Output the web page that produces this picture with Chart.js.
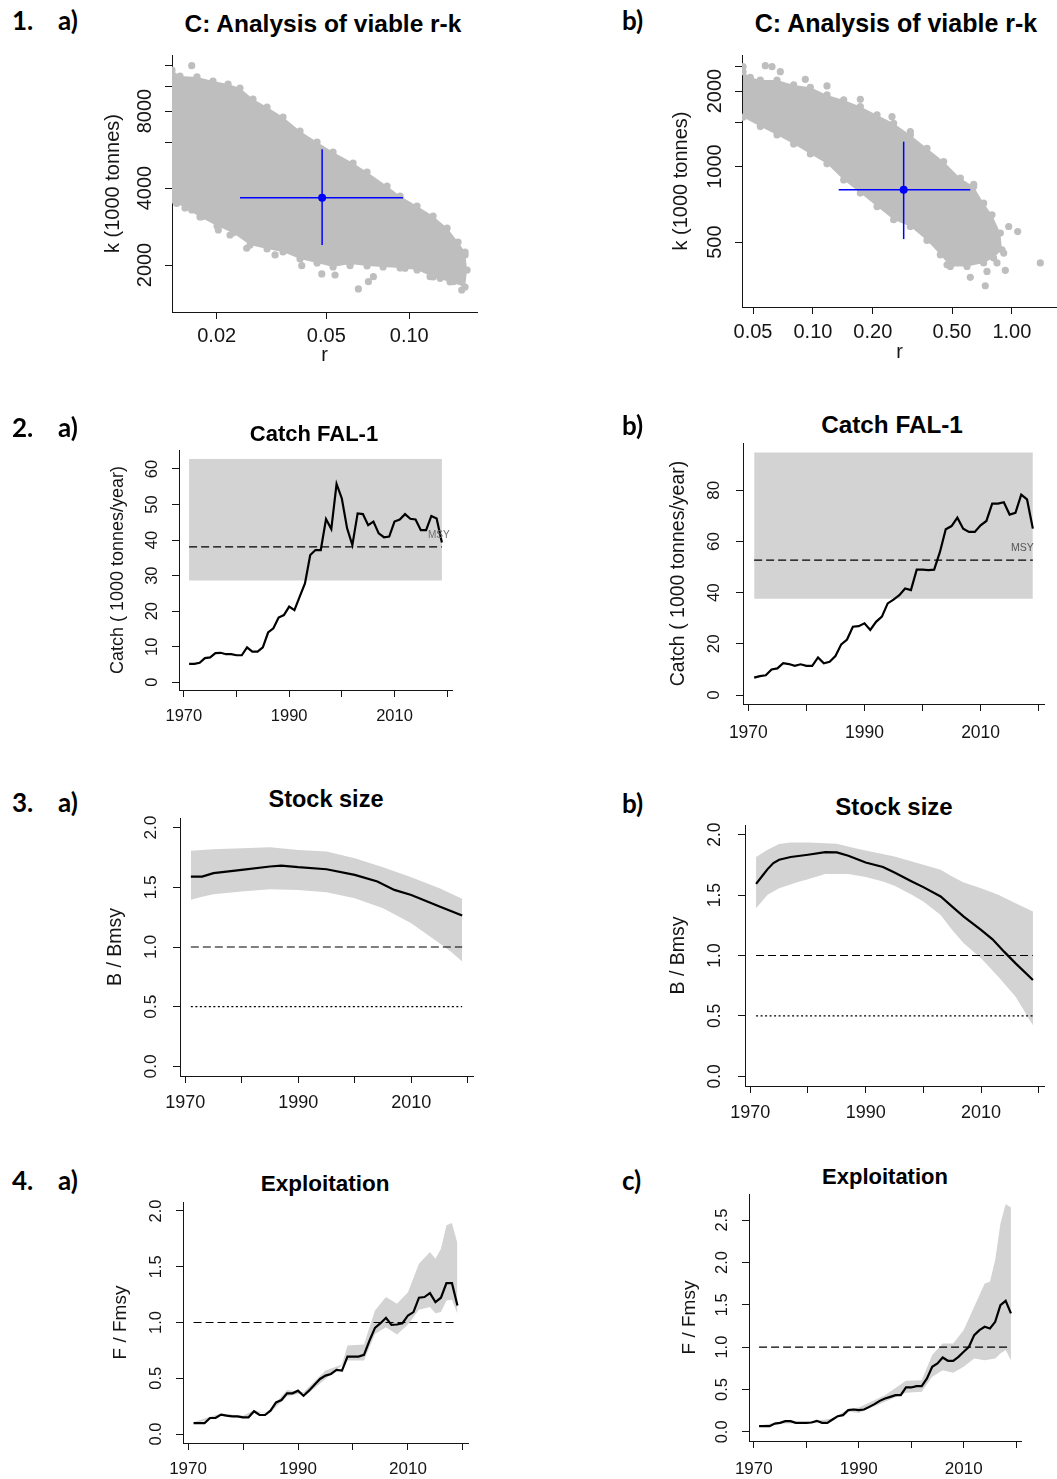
<!DOCTYPE html>
<html><head><meta charset="utf-8">
<script src="https://cdn.jsdelivr.net/npm/chart.js@4.4.1/dist/chart.umd.min.js"></script>
<style>
html,body{margin:0;padding:0;background:#fff;}
#page{position:relative;width:1057px;height:1479px;overflow:hidden;background:#fff;}
#page canvas{position:absolute;}
.lbl{position:absolute;font-family:Lato,'Open Sans',sans-serif;font-weight:700;color:#000;white-space:nowrap;}
.ttl{position:absolute;font-family:'Liberation Sans',Arial,sans-serif;font-weight:700;color:#000;text-align:center;white-space:nowrap;}
</style></head>
<body><div id="page"></div>
<script>
// ---------------- DATA ----------------
// Panel 1a: viable r-k (cloud outline + scattered points + best estimate)
const rk1aCloudR = [0.01377,0.01472,0.01697,0.01940,0.02200,0.02430,0.02710,0.03047,0.03482,0.04014,0.04627,0.05289,0.06252,0.07028,0.08307,0.09261,0.1067,0.1220,0.1372,0.1503,0.1594,0.1621,0.1594,0.1406,0.1220,0.1067,0.09261,0.08034,0.07028,0.06097,0.05289,0.04627,0.04014,0.03482,0.03047,0.02643,0.02293,0.02006,0.01740,0.01535,0.01377];
const rk1aCloudK = [11570,10960,10870,10480,10200,9840,8913,8294,7580,6680,6053,5531,5010,4619,4073,3722,3402,3109,2790,2460,2248,1912,1641,1716,1795,1912,1947,1964,1982,2018,1964,2037,2111,2248,2310,2394,2668,2841,3081,3341,3591];
const rk1aDotsR = [0.01624,0.01493,0.01432,0.01624,0.01765,0.02028,0.02236,0.02570,0.03258,0.04072,0.04814,0.05378,0.06097,0.06535,0.07106,0.07409,0.09654,0.1190,0.1294,0.1446,0.1550,0.1550,0.1594,0.1487,0.1368,0.1223];
const rk1aDotsK = [12030,3535,3483,3282,3090,2741,2620,2325,2189,1988,1845,1828,1988,1612,1721,1800,1942,1800,1774,1721,1597,1942,2189,2394,2660,2911];
const rk1aBestR = [0.0243, 0.04827, 0.0950];   // lower, best, upper
const rk1aBestK = [2394, 3665, 5668];

// Panel 1b
const rk1bCloudR = [0.04452,0.04848,0.05441,0.06600,0.08004,0.09707,0.1177,0.1428,0.1731,0.2100,0.2545,0.3087,0.3744,0.4541,0.5506,0.6425,0.7211,0.7943,0.8747,0.8918,0.8096,0.7211,0.5947,0.4904,0.4368,0.3744,0.3087,0.2545,0.2100,0.1731,0.1428,0.1177,0.09707,0.08004,0.06600,0.05441,0.04452];
const rk1bCloudK = [2389,2268,2213,2213,2114,2070,1929,1843,1734,1606,1488,1337,1183,1047,899,833,715,642,543,466,432,413,400,400,445,508,577,614,693,784,885,1025,1123,1231,1337,1443,1573];
const rk1bDotsR = [0.04452,0.05764,0.06231,0.06860,0.09157,0.1177,0.1731,0.2497,0.3087,0.5726,0.6425,0.9636,1.069,1.389,0.9264,0.7348,0.6178,0.7497,0.8415,0.9094,0.5298,0.4720];
const rk1bDotsK = [2500,2523,2500,2389,2227,2095,1854,1581,1378,846,850,577,551,413,386,335,362,382,413,452,425,406];
const rk1bBestR = [0.1348, 0.2858, 0.6178];
const rk1bBestK = [514, 808, 1257];

// Yearly series
const years = [1971,1972,1973,1974,1975,1976,1977,1978,1979,1980,1981,1982,1983,1984,1985,1986,1987,1988,1989,1990,1991,1992,1993,1994,1995,1996,1997,1998,1999,2000,2001,2002,2003,2004,2005,2006,2007,2008,2009,2010,2011,2012,2013,2014,2015,2016,2017,2018,2019];
const catchA = [5.2,5.2,5.5,6.8,7.0,8.2,8.3,7.9,7.9,7.6,7.6,9.8,8.6,8.6,9.8,14.0,15.2,18.2,18.9,21.3,20.3,24.1,27.8,35.8,37.2,37.2,45.9,43.1,55.8,51.7,43.3,38.6,47.5,47.3,44.2,45.2,41.9,40.8,41.0,45.2,45.8,47.3,46.0,45.8,42.8,42.8,46.8,46.1,39.3];
const catchB = [6.8,7.4,7.7,10.0,10.4,12.4,12.1,11.4,12.0,11.4,11.4,14.7,12.4,13.0,15.2,19.8,21.7,26.7,26.9,28.0,25.4,28.6,30.6,35.8,37.3,39.0,41.6,41.0,49.0,49.0,48.8,49.0,55.9,64.8,66.0,69.3,65.0,63.7,63.7,66.3,68.0,74.8,74.8,75.3,70.5,71.2,78.3,76.4,65.0];
const msyA = [38.1, 28.6, 62.8];   // MSY, lower, upper
const msyB = [52.7, 37.6, 94.7];
const msyYears = [1971, 2019];

// Stock size B/Bmsy
const bA_yr = [1971,1973,1975,1980,1985,1987,1990,1995,2000,2004,2007,2010,2015,2019];
const bA    = [1.590,1.590,1.618,1.646,1.674,1.682,1.668,1.651,1.604,1.548,1.478,1.436,1.339,1.264];
const bAhi_yr = [1971,1975,1980,1985,1990,1995,2000,2005,2010,2015,2019];
const bAhi    = [1.805,1.819,1.827,1.835,1.813,1.799,1.743,1.668,1.584,1.492,1.403];
const bAlo_yr = [1971,1973,1975,1980,1985,1990,1995,2000,2005,2010,2015,2017,2019];
const bAlo    = [1.395,1.420,1.442,1.464,1.484,1.478,1.459,1.409,1.325,1.199,1.032,0.962,0.879];

const bB_yr = [1971,1972,1973,1974,1975,1977,1980,1983,1985,1987,1990,1993,1995,1998,2000,2003,2005,2007,2010,2012,2014,2016,2019];
const bB    = [1.593,1.654,1.715,1.765,1.793,1.815,1.834,1.856,1.853,1.826,1.770,1.732,1.687,1.613,1.566,1.488,1.405,1.322,1.212,1.134,1.032,0.935,0.797];
const bBhi_yr = [1971,1973,1975,1977,1980,1985,1988,1990,1995,2000,2003,2005,2007,2010,2013,2016,2019];
const bBhi    = [1.815,1.876,1.923,1.936,1.936,1.925,1.889,1.870,1.820,1.751,1.710,1.654,1.604,1.557,1.502,1.433,1.364];
const bBlo_yr = [1971,1973,1975,1978,1980,1983,1987,1990,1993,1995,1998,2000,2003,2005,2007,2010,2013,2016,2019];
const bBlo    = [1.391,1.502,1.557,1.604,1.632,1.674,1.674,1.649,1.613,1.577,1.502,1.447,1.336,1.212,1.101,0.977,0.824,0.658,0.423];

// Exploitation F/Fmsy
const fA = [0.099,0.099,0.099,0.144,0.144,0.174,0.165,0.159,0.159,0.150,0.150,0.204,0.171,0.171,0.210,0.284,0.305,0.365,0.365,0.389,0.344,0.389,0.443,0.494,0.524,0.539,0.575,0.569,0.695,0.695,0.695,0.710,0.838,0.952,0.994,1.042,0.979,0.982,0.994,1.063,1.093,1.222,1.228,1.263,1.183,1.222,1.353,1.353,1.153];
const fAhi_yr = [1971,1974,1976,1980,1982,1984,1985,1988,1991,1995,1998,1999,2002,2004,2006,2008,2010,2012,2014,2015,2016,2017,2018,2019];
const fAhi    = [0.105,0.155,0.185,0.165,0.215,0.185,0.225,0.395,0.374,0.569,0.623,0.793,0.802,1.108,1.228,1.168,1.272,1.527,1.632,1.572,1.662,1.871,1.892,1.707];
const fAlo_yr = [1971,1974,1976,1980,1982,1985,1988,1990,1992,1995,1999,2002,2004,2006,2008,2010,2012,2014,2015,2016,2017,2018,2019];
const fAlo    = [0.090,0.135,0.165,0.140,0.190,0.195,0.340,0.359,0.370,0.494,0.659,0.659,0.898,0.958,0.892,0.982,1.114,1.138,1.084,1.093,1.198,1.204,1.078];

const fC = [0.067,0.067,0.067,0.098,0.106,0.126,0.126,0.106,0.106,0.106,0.110,0.130,0.106,0.106,0.146,0.185,0.197,0.256,0.264,0.256,0.264,0.295,0.327,0.366,0.394,0.413,0.433,0.433,0.524,0.524,0.539,0.539,0.630,0.768,0.807,0.878,0.839,0.839,0.886,0.945,1.004,1.142,1.201,1.240,1.220,1.299,1.496,1.547,1.398];
const fChi_yr = [1971,1975,1980,1985,1988,1990,1995,1999,2002,2004,2006,2008,2010,2012,2014,2015,2016,2017,2018,2019];
const fChi    = [0.075,0.115,0.115,0.157,0.270,0.287,0.433,0.602,0.610,0.906,1.043,1.043,1.201,1.476,1.752,1.772,2.028,2.461,2.689,2.650];
const fClo_yr = [1971,1975,1980,1985,1988,1990,1995,1999,2002,2004,2006,2008,2010,2012,2014,2016,2017,2018,2019];
const fClo    = [0.059,0.098,0.098,0.130,0.240,0.224,0.354,0.461,0.472,0.650,0.728,0.697,0.768,0.866,0.846,0.866,0.925,0.965,0.846];

const refYears = [1971, 2019];

// Tick values and labels
const yearTicks = [1970,1980,1990,2000,2010,2020];
const yearTickLabels = ['1970','','1990','','2010',''];
const r1aTicks = [0.02,0.05,0.1];            const r1aLabels = ['0.02','0.05','0.10'];
const k1aTicks = [2000,4000,6000,8000,10000,12000]; const k1aLabels = ['2000','4000','','8000','',''];
const r1bTicks = [0.05,0.1,0.2,0.5,1];       const r1bLabels = ['0.05','0.10','0.20','0.50','1.00'];
const k1bTicks = [500,1000,1500,2000,2500];  const k1bLabels = ['500','1000','','2000',''];
const c2aTicks = [0,10,20,30,40,50,60];      const c2aLabels = ['0','10','20','30','40','50','60'];
const c2bTicks = [0,20,40,60,80];            const c2bLabels = ['0','20','40','60','80'];
const ratioTicks = [0,0.5,1,1.5,2];          const ratioLabels = ['0.0','0.5','1.0','1.5','2.0'];
const ratioTicksC = [0,0.5,1,1.5,2,2.5];     const ratioLabelsC = ['0.0','0.5','1.0','1.5','2.0','2.5'];

// ---------------- RENDERING ----------------
const FAM = "'Liberation Sans', Arial, Helvetica, sans-serif";
const INK = '#151515';
const CLOUD = '#bebebe';
const BAND = '#d3d3d3';
const BLUE = '#0000ff';
const TL = 7;
Chart.defaults.font.family = FAM;
Chart.defaults.color = INK;
const page = document.getElementById('page');

const mctx = document.createElement('canvas').getContext('2d');
function measureMax(labels, size) {
  mctx.font = size + 'px ' + FAM;
  return Math.max(...labels.map(s => mctx.measureText(s).width));
}
const pts = (xs, ys) => xs.map((x, i) => ({x: x, y: ys[i]}));
const flat = (xs, v) => xs.map(x => ({x: x, y: v}));

function textPlugin(items) {
  return {
    id: 'refText',
    afterDatasetsDraw(chart) {
      const ctx = chart.ctx;
      ctx.save();
      items.forEach(t => {
        ctx.font = t.fs + 'px ' + FAM;
        ctx.fillStyle = t.color;
        ctx.textAlign = 'center';
        ctx.textBaseline = 'middle';
        ctx.fillText(t.text, chart.scales.x.getPixelForValue(t.x), chart.scales.y.getPixelForValue(t.y));
      });
      ctx.restore();
    }
  };
}

function panel(p) {
  const [cx, cy, cw, ch] = p.box;
  const [L, T, R, B] = p.plot;
  const cv = document.createElement('canvas');
  cv.width = cw; cv.height = ch;
  cv.style.left = cx + 'px'; cv.style.top = cy + 'px';
  cv.style.width = cw + 'px'; cv.style.height = ch + 'px';
  page.appendChild(cv);
  const yw = L - cx, xh = cy + ch - B;
  const X = p.x, Y = p.y;
  const yLabW = measureMax(Y.labels, Y.fs);
  new Chart(cv.getContext('2d'), {
    type: 'line',
    data: {datasets: p.datasets},
    options: {
      responsive: false, maintainAspectRatio: false, animation: false, devicePixelRatio: 1, events: [],
      layout: {autoPadding: false, padding: {left: 0, top: T - cy, right: cx + cw - R, bottom: 0}},
      plugins: {legend: {display: false}, tooltip: {enabled: false}, title: {display: false}},
      elements: {point: {radius: 0, hoverRadius: 0}, line: {tension: 0}},
      scales: {
        x: {
          type: X.type, position: 'bottom', min: X.min, max: X.max, bounds: 'data', offset: false,
          afterBuildTicks: s => { s.ticks = X.ticks.map(v => ({value: v})); },
          afterFit: s => { s.height = xh; s.paddingLeft = 0; s.paddingRight = 0; },
          ticks: {autoSkip: false, minRotation: 0, maxRotation: 0, color: INK,
                  font: {family: FAM, size: X.fs}, padding: X.labelY - B - TL - 0.6 * X.fs,
                  callback: (v, i) => X.labels[i]},
          grid: {drawOnChartArea: false, drawTicks: true, tickLength: TL, color: INK, lineWidth: 1},
          border: {display: true, color: INK, width: 1},
          title: X.title ? {display: true, text: X.title, color: INK, font: {family: FAM, size: X.tfs},
                            padding: {top: 0, bottom: (cy + ch - X.titleY) - 0.6 * X.tfs}} : {display: false}
        },
        y: {
          type: Y.type, position: 'left', min: Y.min, max: Y.max, bounds: 'data',
          afterBuildTicks: s => { s.ticks = Y.ticks.map(v => ({value: v})); },
          afterFit: s => { s.width = yw; s.paddingTop = 0; s.paddingBottom = 0; },
          ticks: {autoSkip: false, minRotation: 90, maxRotation: 90, crossAlign: 'center', color: INK,
                  font: {family: FAM, size: Y.fs}, padding: (L - Y.labelX) - TL - yLabW / 2,
                  callback: (v, i) => Y.labels[i]},
          grid: {drawOnChartArea: false, drawTicks: true, tickLength: TL, color: INK, lineWidth: 1},
          border: {display: true, color: INK, width: 1},
          title: {display: true, text: Y.title, color: INK, font: {family: FAM, size: Y.tfs},
                  padding: {top: (Y.titleX - cx) - 0.6 * Y.tfs, bottom: 0}}
        }
      }
    },
    plugins: p.texts ? [textPlugin(p.texts)] : []
  });
}

function rkDatasets(cR, cK, dR, dK, bR, bK) {
  return [
    {data: pts(cR, cK), fill: 'shape', backgroundColor: CLOUD, borderColor: CLOUD, borderWidth: 0,
     pointRadius: 3.6, pointBackgroundColor: CLOUD, pointBorderWidth: 0, order: 4},
    {data: pts(dR, dK), showLine: false, pointRadius: 3.6, pointBackgroundColor: CLOUD, pointBorderWidth: 0, order: 3},
    {data: pts([bR[0], bR[2]], [bK[1], bK[1]]), borderColor: BLUE, borderWidth: 1.5, pointRadius: 0, order: 2},
    {data: pts([bR[1], bR[1]], [bK[0], bK[2]]), borderColor: BLUE, borderWidth: 1.5, pointRadius: 0, order: 2},
    {data: pts([bR[1]], [bK[1]]), showLine: false, pointRadius: 4, pointBackgroundColor: BLUE, pointBorderWidth: 0, order: 1}
  ];
}

function catchDatasets(vals, msy) {
  return [
    {data: pts(years, vals), borderColor: '#000', borderWidth: 2.2, order: 1},
    {data: flat(msyYears, msy[0]), borderColor: '#000', borderWidth: 1.3, borderDash: [8, 4], order: 2},
    {data: flat(msyYears, msy[2]), fill: {value: msy[1]}, backgroundColor: BAND, borderWidth: 0, borderColor: 'rgba(0,0,0,0)', order: 5}
  ];
}

function bandDatasets(lx, ly, hx, hy, lox, loy, refs) {
  const ds = [{data: pts(lx, ly), borderColor: '#000', borderWidth: 2.2, order: 1}];
  refs.forEach(r => ds.push({data: flat(refYears, r.v), borderColor: '#000', borderWidth: 1.2, borderDash: r.dash, order: 2}));
  const loIdx = ds.length + 1;
  ds.push({data: pts(hx, hy), fill: loIdx, backgroundColor: BAND, borderWidth: 0, borderColor: 'rgba(0,0,0,0)', order: 5});
  ds.push({data: pts(lox, loy), borderWidth: 0, borderColor: 'rgba(0,0,0,0)', order: 6});
  return ds;
}

const yearX = (fs, labelY) => ({type: 'linear', min: 1969.08, max: 2020.92, ticks: yearTicks, labels: yearTickLabels, fs: fs, labelY: labelY});

// 1a
panel({box: [95, 50, 400, 320], plot: [172, 55, 477, 312],
  x: {type: 'logarithmic', min: 0.01377, max: 0.1761, ticks: r1aTicks, labels: r1aLabels, fs: 20, labelY: 336, title: 'r', tfs: 20, titleY: 355},
  y: {type: 'logarithmic', min: 1310, max: 13246, ticks: k1aTicks, labels: k1aLabels, fs: 20, labelX: 145, title: 'k (1000 tonnes)', tfs: 20, titleX: 113},
  datasets: rkDatasets(rk1aCloudR, rk1aCloudK, rk1aDotsR, rk1aDotsK, rk1aBestR, rk1aBestK)});
// 1b
panel({box: [665, 50, 392, 320], plot: [742, 55, 1057, 307],
  x: {type: 'logarithmic', min: 0.04402, max: 1.685, ticks: r1bTicks, labels: r1bLabels, fs: 20, labelY: 332, title: 'r', tfs: 20, titleY: 352},
  y: {type: 'logarithmic', min: 275.7, max: 2783, ticks: k1bTicks, labels: k1bLabels, fs: 20, labelX: 715, title: 'k (1000 tonnes)', tfs: 20, titleX: 681},
  datasets: rkDatasets(rk1bCloudR, rk1bCloudK, rk1bDotsR, rk1bDotsK, rk1bBestR, rk1bBestK)});
// 2a
panel({box: [100, 445, 370, 290], plot: [179, 450, 452, 690],
  x: yearX(16.5, 716.7),
  y: {type: 'linear', min: -2.17, max: 65.34, ticks: c2aTicks, labels: c2aLabels, fs: 16.5, labelX: 152, title: 'Catch ( 1000 tonnes/year)', tfs: 18, titleX: 118},
  datasets: catchDatasets(catchA, msyA),
  texts: [{text: 'MSY', x: 2018.4, y: 41.4, fs: 10, color: '#707070'}]});
// 2b
panel({box: [660, 438, 397, 312], plot: [743, 443, 1044, 704],
  x: yearX(17.5, 733.3),
  y: {type: 'linear', min: -3.51, max: 98.46, ticks: c2bTicks, labels: c2bLabels, fs: 17, labelX: 714, title: 'Catch ( 1000 tonnes/year)', tfs: 19.5, titleX: 679},
  datasets: catchDatasets(catchB, msyB),
  texts: [{text: 'MSY', x: 2017.2, y: 57.2, fs: 10.5, color: '#555'}]});
// 3a
panel({box: [100, 813, 380, 307], plot: [180, 818, 473, 1076],
  x: yearX(18, 1103.3),
  y: {type: 'linear', min: -0.08, max: 2.08, ticks: ratioTicks, labels: ratioLabels, fs: 17.3, labelX: 151.7, title: 'B / Bmsy', tfs: 19.5, titleX: 116},
  datasets: bandDatasets(bA_yr, bA, bAhi_yr, bAhi, bAlo_yr, bAlo, [{v: 1, dash: [8, 4]}, {v: 0.5, dash: [2, 2.5]}])});
// 3b
panel({box: [660, 820, 397, 310], plot: [745, 825, 1044, 1086],
  x: yearX(18, 1113.3),
  y: {type: 'linear', min: -0.08, max: 2.08, ticks: ratioTicks, labels: ratioLabels, fs: 17.5, labelX: 715, title: 'B / Bmsy', tfs: 19.5, titleX: 679},
  datasets: bandDatasets(bB_yr, bB, bBhi_yr, bBhi, bBlo_yr, bBlo, [{v: 1, dash: [8, 4]}, {v: 0.5, dash: [2, 2.5]}])});
// 4a
panel({box: [100, 1196, 380, 283], plot: [183, 1202, 468, 1443],
  x: yearX(17, 1469.3),
  y: {type: 'linear', min: -0.08, max: 2.08, ticks: ratioTicks, labels: ratioLabels, fs: 16.5, labelX: 156.7, title: 'F / Fmsy', tfs: 19, titleX: 121},
  datasets: bandDatasets(years, fA, fAhi_yr, fAhi, fAlo_yr, fAlo, [{v: 1, dash: [8, 4]}])});
// 4c
panel({box: [660, 1189, 390, 290], plot: [749, 1194, 1021, 1441],
  x: yearX(17, 1469.3),
  y: {type: 'linear', min: -0.108, max: 2.808, ticks: ratioTicksC, labels: ratioLabelsC, fs: 16.5, labelX: 722, title: 'F / Fmsy', tfs: 19, titleX: 690},
  datasets: bandDatasets(years, fC, fChi_yr, fChi, fClo_yr, fClo, [{v: 1, dash: [8, 4]}])});

// ---------------- TEXT (titles and panel labels) ----------------
function title(text, cx, baseline, fs) {
  const d = document.createElement('div');
  d.className = 'ttl'; d.textContent = text;
  d.style.left = (cx - 250) + 'px'; d.style.width = '500px';
  d.style.fontSize = fs + 'px'; d.style.lineHeight = fs + 'px';
  d.style.top = (baseline - 0.8465 * fs) + 'px';
  page.appendChild(d);
}
function label(text, left, baseline) {
  const fs = 26;
  const d = document.createElement('div');
  d.className = 'lbl'; d.textContent = text;
  d.style.left = left + 'px'; d.style.fontSize = fs + 'px'; d.style.lineHeight = fs + 'px';
  d.style.top = (baseline - 0.887 * fs) + 'px';
  page.appendChild(d);
}
title('C: Analysis of viable r-k', 323, 32.3, 24.5);
title('C: Analysis of viable r-k', 896, 32.3, 25);
title('Catch FAL-1', 314, 441.7, 22);
title('Catch FAL-1', 892, 433.3, 24.3);
title('Stock size', 326, 808.3, 23.5);
title('Stock size', 894, 815, 24);
title('Exploitation', 325, 1192.3, 22.5);
title('Exploitation', 885, 1185, 22);

label('1.', 12, 30); label('a)', 58, 30); label('b)', 622, 30);
label('2.', 12, 437); label('a)', 58, 437); label('b)', 622, 435);
label('3.', 12, 812.5); label('a)', 58, 812.5); label('b)', 622, 813);
label('4.', 12, 1190); label('a)', 58, 1190); label('c)', 622, 1190);
</script>
</body></html>
